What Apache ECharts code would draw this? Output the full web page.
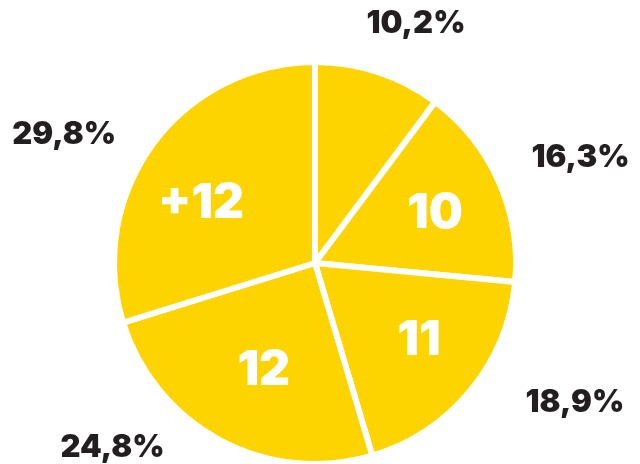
<!DOCTYPE html>
<html>
<head>
<meta charset="utf-8">
<script src="https://cdn.jsdelivr.net/npm/echarts@6/dist/echarts.min.js"></script>
<style>
html,body{margin:0;padding:0;background:#fff;}
#chart{width:640px;height:464px;}
</style>
</head>
<body>
<div id="chart"></div>
<script>
// categories (inner labels) and shares in %
let categories=["","10","11","12","+12"];
let shares=[10.2,16.3,18.9,24.8,29.8];

// nudges for the outer percentage labels
let outerOffsets=[[15,20],[16,5],[49,-34],[-74,-56],[-31,34]];
let innerOffsets=[[3,3],[5,-4],[9,-5],[-11,16]];

let center=[315,263];
let fontName="Inter";

function pct(v){
    return v.toFixed(1).replace(".",",")+"%";
}

let mainData=[];
let innerData=[];
let outerData=[];
for(let i=0;i<shares.length;i++){
    mainData.push({name:categories[i],value:shares[i]});
    innerData.push({
        name:categories[i],
        value:shares[i],
        label:{show:categories[i]!=="",offset:i>0?innerOffsets[i-1]:[0,0]}
    });
    outerData.push({
        name:categories[i],
        value:shares[i],
        label:{offset:outerOffsets[i]}
    });
}

var myChart=echarts.init(document.getElementById("chart"));
var option={
    animation:false,
    backgroundColor:"#fff",
    series:[{
        type:"pie",
        center:center,
        radius:[0,201],
        startAngle:90,
        clockwise:true,
        silent:true,
        data:mainData,
        itemStyle:{color:"#FDD400",borderColor:"#fff",borderWidth:6},
        label:{show:false},
        labelLine:{show:false}
    },{
        // invisible ring only used to place the white category labels
        type:"pie",
        center:center,
        radius:[0,250],
        startAngle:90,
        clockwise:true,
        silent:true,
        z:3,
        data:innerData,
        itemStyle:{color:"rgba(0,0,0,0)"},
        label:{
            position:"inside",
            color:"#fff",
            fontFamily:fontName,
            fontWeight:900,
            fontSize:48,
            formatter:function(p){return p.name;}
        },
        labelLine:{show:false}
    },{
        // invisible ring only used to place the percentage labels
        type:"pie",
        center:center,
        radius:[0,540],
        startAngle:90,
        clockwise:true,
        silent:true,
        z:3,
        data:outerData,
        itemStyle:{color:"rgba(0,0,0,0)"},
        label:{
            position:"inside",
            color:"#231f20",
            fontFamily:fontName,
            fontWeight:900,
            fontSize:31,
            formatter:function(p){return pct(p.value);}
        },
        labelLine:{show:false}
    }]
};
myChart.setOption(option);
</script>
</body>
</html>
